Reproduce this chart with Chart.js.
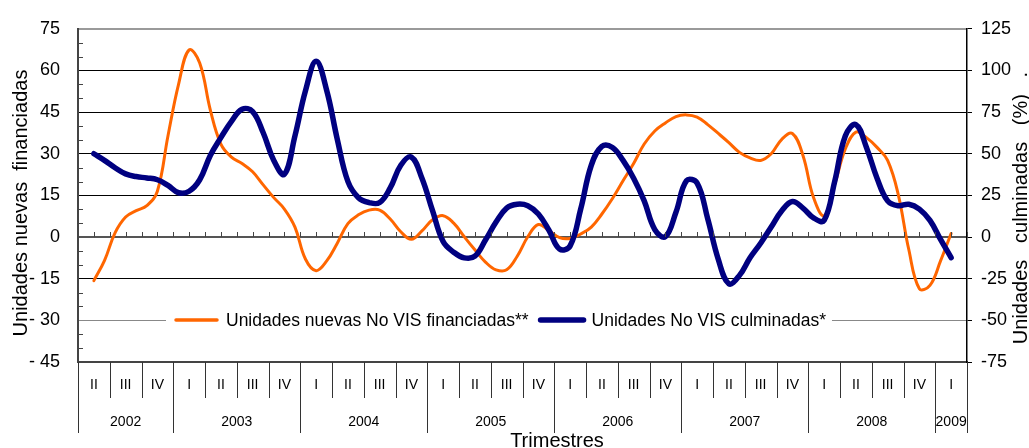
<!DOCTYPE html>
<html>
<head>
<meta charset="utf-8">
<script src="https://cdn.jsdelivr.net/npm/chart.js@4.4.1/dist/chart.umd.min.js"></script>
<style>
  html, body { margin: 0; padding: 0; background: #fff; overflow: hidden; }
  canvas { display: block; }
</style>
</head>
<body>
<canvas id="chart" width="1029" height="448"></canvas>
<script>
// quarters on the category table (2002 II .. 2009 I)
const quarterLabels = ['II', 'III', 'IV',
  'I', 'II', 'III', 'IV', 'I', 'II', 'III', 'IV', 'I', 'II', 'III', 'IV',
  'I', 'II', 'III', 'IV', 'I', 'II', 'III', 'IV', 'I', 'II', 'III', 'IV',
  'I']
const yearLabels = ['2002', '2003', '2004', '2005', '2006', '2007', '2008', '2009']
const yearQuarters = [3, 4, 4, 4, 4, 4, 4, 1]

// monthly points, first one at the middle of 2002 II (left axis, %)
const financiadas = [
  -15.7, -8.5, 1.5, 7.2, 9.5, 11.3, 16.5, 36.4, 55, 67.4,
  62.7, 45.8, 33.5, 28.8, 26.5, 23.5, 18.8, 14.2, 10.1, 3.6,
  -8, -12.1, -8.6, -2.2, 4.8, 8, 9.7, 9.7, 6.5, 1.9,
  -0.8, 2.2, 6.2, 7.7, 5, 0.1, -4.6, -9, -11.8, -11.8,
  -6.9, 0.1, 4.5, 2.3, -0.2, -0.5, 1.1, 3.6, 8.3, 13.9,
  20.3, 26.5, 33.5, 38.2, 41.1, 43.4, 44, 43.2, 40.5, 37.3,
  34, 30.5, 28.5, 27.6, 30, 35.2, 37.3, 29.4, 14.2, 7.7,
  18.9, 31.7, 37.8, 35.8, 32.3, 27.6, 15.4, -4.5, -18.6, -17.4,
  -8.6, 1.3
]
// right axis, %
const culminadas = [
  50, 46, 41.6, 37.9, 36.3, 35.5, 34.4, 31, 26.6, 27.5,
  34.4, 49, 59.7, 69.4, 76.7, 75.3, 62.6, 46, 37.7, 60.7,
  88, 105.5, 88, 58.7, 33.4, 23.6, 20.7, 20.7, 29.5, 43.1,
  48, 35.3, 15.8, -2.7, -9.1, -12.5, -11.5, -1.8, 9, 17.4,
  19.7, 18.8, 13.8, 4.1, -7.2, -5.3, 16.8, 43.1, 54.4, 53.8,
  46, 35.3, 21.7, 4.5, 0.2, 14.9, 33.8, 32.4, 11, -13.4,
  -28, -23, -12.4, -3.7, 6, 15.8, 21.3, 17.4, 11.5, 10,
  33.4, 60.7, 67.5, 53.8, 35.3, 21.7, 18.8, 19.7, 16.8, 10,
  -1.4, -12.4
]

const seriesNames = ['Unidades nuevas No VIS financiadas**', 'Unidades No VIS culminadas*']
const leftTitle = 'Unidades nuevas  financiadas'
const rightTitle = 'Unidades   culminadas   (%)   .'
const xTitle = 'Trimestres'

const FONT = '"Liberation Sans", Arial, sans-serif'
const ORANGE = '#ff6600'
const NAVY = '#000080'

const toPoints = arr => arr.map((v, i) => ({ x: i, y: v }))

const line = (ctx, x1, y1, x2, y2) => {
  ctx.beginPath()
  ctx.moveTo(x1, y1)
  ctx.lineTo(x2, y2)
  ctx.stroke()
}

const decor = {
  id: 'decor',
  afterDraw (chart) {
    const ctx = chart.ctx
    const a = chart.chartArea
    const x = chart.scales.x
    const y = chart.scales.y
    ctx.save()

    // minor ticks on the left axis
    ctx.strokeStyle = '#444'
    ctx.lineWidth = 1
    for (let v = -45; v <= 75; v += 5) {
      if (v % 15 === 0) continue
      const py = Math.round(y.getPixelForValue(v)) + 0.5
      line(ctx, a.left, py, a.left + 5, py)
    }

    // ticks along the zero line
    const y0 = Math.round(y.getPixelForValue(0))
    for (let m = 0; m <= 82.5; m += 1.5) {
      const px = Math.round(x.getPixelForValue(m)) + 0.5
      line(ctx, px, y0 - 5, px, y0)
    }

    // category table below the plot
    ctx.strokeStyle = '#333'
    ctx.lineWidth = 1
    const yearStarts = new Set()
    let acc = 0
    yearQuarters.forEach(n => { yearStarts.add(acc); acc += n })
    yearStarts.add(acc)
    for (let q = 0; q <= quarterLabels.length; q++) {
      const px = Math.round(x.getPixelForValue(q * 3 - 1.5)) + 0.5
      const bottom = yearStarts.has(q) ? a.bottom + 71 : a.bottom + 36
      line(ctx, px, a.bottom, px, bottom)
    }
    ctx.fillStyle = '#000'
    ctx.textAlign = 'center'
    ctx.textBaseline = 'middle'
    ctx.font = '14px ' + FONT
    quarterLabels.forEach((lab, q) => {
      ctx.fillText(lab, x.getPixelForValue(q * 3), a.bottom + 23)
    })
    acc = 0
    yearLabels.forEach((lab, i) => {
      const start = x.getPixelForValue(acc * 3 - 1.5)
      acc += yearQuarters[i]
      const end = x.getPixelForValue(acc * 3 - 1.5)
      ctx.fillText(lab, (start + end) / 2, a.bottom + 60)
    })
    ctx.font = '20px ' + FONT
    ctx.textBaseline = 'alphabetic'
    ctx.fillText(xTitle, 557, 447)

    // axis titles
    ctx.save()
    ctx.translate(27, 203)
    ctx.rotate(-Math.PI / 2)
    ctx.fillText(leftTitle, 0, 0)
    ctx.restore()
    ctx.save()
    ctx.translate(1027, 208)
    ctx.rotate(-Math.PI / 2)
    ctx.fillText(rightTitle, 0, 0)
    ctx.restore()

    // legend sitting on the -30 gridline
    ctx.font = '17.5px ' + FONT
    const ly = Math.round(y.getPixelForValue(-30))
    const w1 = ctx.measureText(seriesNames[0]).width
    const w2 = ctx.measureText(seriesNames[1]).width
    const lx = 176
    const x2 = lx + 41 + 9 + w1 + 12
    const boxEnd = x2 + 43 + 8 + w2 + 6
    ctx.fillStyle = '#fff'
    ctx.fillRect(lx - 10, ly - 12, boxEnd - lx + 10, 24)
    ctx.lineCap = 'round'
    ctx.strokeStyle = ORANGE
    ctx.lineWidth = 3.5
    line(ctx, lx, ly, lx + 41, ly)
    ctx.strokeStyle = NAVY
    ctx.lineWidth = 5.5
    line(ctx, x2, ly, x2 + 43, ly)
    ctx.fillStyle = '#000'
    ctx.textAlign = 'left'
    ctx.textBaseline = 'middle'
    ctx.fillText(seriesNames[0], lx + 50, ly + 1)
    ctx.fillText(seriesNames[1], x2 + 51, ly + 1)

    ctx.restore()
  }
}

const gridColor = v => {
  if (v === 75) return '#9a9a9a'
  if (v === 0) return '#555'
  if (v === -30) return '#888'
  return '#000'
}

new Chart(document.getElementById('chart'), {
  type: 'line',
  data: {
    datasets: [
      {
        label: seriesNames[0],
        data: toPoints(financiadas),
        yAxisID: 'y',
        borderColor: ORANGE,
        borderWidth: 3,
        order: 2
      },
      {
        label: seriesNames[1],
        data: toPoints(culminadas),
        yAxisID: 'y2',
        borderColor: NAVY,
        borderWidth: 5.5,
        order: 1
      }
    ]
  },
  options: {
    responsive: false,
    animation: false,
    devicePixelRatio: 1,
    layout: { padding: { top: 20, left: 0, right: 0, bottom: 0 } },
    plugins: { legend: { display: false }, tooltip: { enabled: false } },
    elements: {
      point: { radius: 0 },
      line: { tension: 0.4, borderCapStyle: 'round', borderJoinStyle: 'round', fill: false }
    },
    scales: {
      x: {
        type: 'linear',
        min: -1.5,
        max: 82.5,
        ticks: { display: false },
        grid: { display: false },
        border: { display: true, color: '#444', width: 2 },
        afterFit (s) { s.height = 86 }
      },
      y: {
        position: 'left',
        min: -45,
        max: 75,
        ticks: {
          stepSize: 15,
          padding: 18,
          color: '#000',
          font: { family: FONT, size: 18 },
          callback: v => v < 0 ? '- ' + Math.abs(v) : String(v)
        },
        grid: {
          drawTicks: false,
          color: c => gridColor(c.tick.value),
          lineWidth: c => (c.tick.value === 0 || c.tick.value === 75) ? 2 : 1
        },
        border: { color: '#444', width: 2 },
        afterFit (s) { s.width = 78 }
      },
      y2: {
        position: 'right',
        min: -75,
        max: 125,
        ticks: {
          stepSize: 25,
          padding: 9,
          color: '#000',
          font: { family: FONT, size: 18 }
        },
        grid: { drawOnChartArea: false, drawTicks: true, tickLength: 5, color: '#000' },
        border: { color: '#000', width: 1.5 },
        afterFit (s) { s.width = 62 }
      }
    }
  },
  plugins: [decor]
})
</script>
</body>
</html>
